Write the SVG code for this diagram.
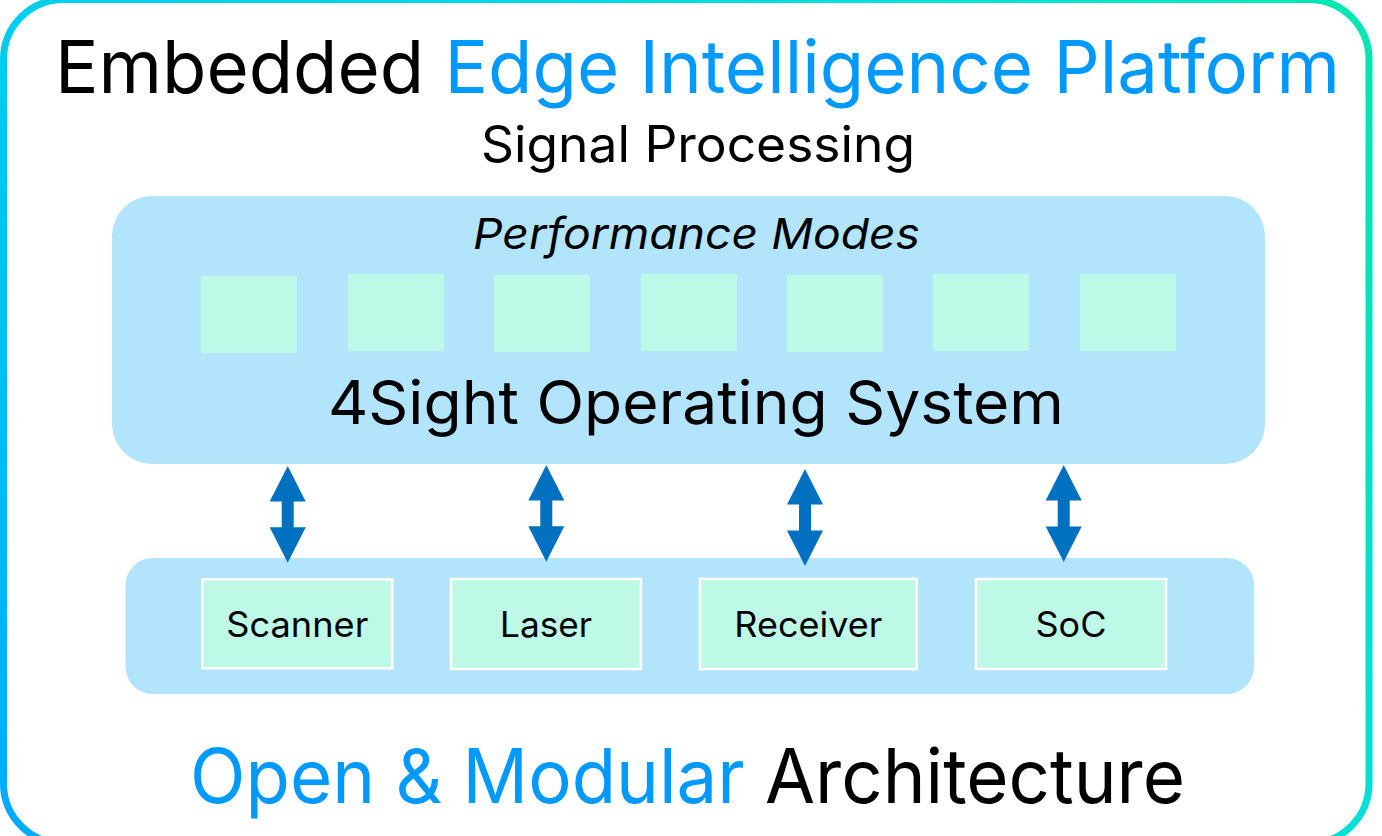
<svg xmlns="http://www.w3.org/2000/svg" width="1382" height="836" viewBox="0 0 1382 836">
  <defs>
    <linearGradient id="border" gradientUnits="userSpaceOnUse" x1="0" y1="836" x2="1382" y2="0">
      <stop offset="0" stop-color="#00aaff"/>
      <stop offset="0.27" stop-color="#00cdf0"/>
      <stop offset="0.73" stop-color="#00e0da"/>
      <stop offset="1" stop-color="#00e8b0"/>
    </linearGradient>
    <style>
      text { font-family: Inter, "Liberation Sans", sans-serif; font-weight: 400; fill: #000; }
      .blue { fill: #0099ff; }
      .panel { fill: #b2e5fc; }
      .mode { fill: #bef8e6; }
      .module { fill: #bef8e6; stroke: #ffffff; stroke-width: 2.5; }
      .label { font-size: 35px; text-anchor: middle; }
      .arrow { fill: #0070c0; }
    </style>
  </defs>
  <rect width="1382" height="836" fill="#ffffff"/>
  <rect id="frame" x="3.5" y="-0.5" width="1365.5" height="844" rx="60" fill="none" stroke="url(#border)" stroke-width="7"/>

  <g id="title">
    <text x="55" y="93" font-size="73" textLength="1285" lengthAdjust="spacingAndGlyphs">Embedded <tspan class="blue">Edge Intelligence Platform</tspan></text>
  </g>
  <g id="subtitle">
    <text x="481" y="162" font-size="50" textLength="434" lengthAdjust="spacingAndGlyphs">Signal Processing</text>
  </g>

  <g id="os-panel">
    <rect class="panel" x="112" y="196" width="1153" height="268" rx="40"/>
    <text x="473" y="249" font-size="43" font-style="italic" textLength="447" lengthAdjust="spacingAndGlyphs">Performance Modes</text>
    <g id="modes">
      <rect class="mode" x="201" y="276" width="96" height="77"/>
      <rect class="mode" x="348" y="274" width="96" height="77"/>
      <rect class="mode" x="494" y="275" width="96" height="77"/>
      <rect class="mode" x="641" y="274" width="96" height="77"/>
      <rect class="mode" x="787" y="275" width="96" height="77"/>
      <rect class="mode" x="933" y="274" width="96" height="77"/>
      <rect class="mode" x="1080" y="274" width="96" height="77"/>
    </g>
    <text x="328" y="424" font-size="60" textLength="736" lengthAdjust="spacingAndGlyphs">4Sight Operating System</text>
  </g>

  <g id="hardware-panel">
    <rect class="panel" x="125.5" y="558" width="1128.5" height="136" rx="27"/>
  </g>
  <g id="scanner">
    <rect class="module" x="202.3" y="579.3" width="190" height="89"/>
    <text class="label" x="297.3" y="637" textLength="142" lengthAdjust="spacingAndGlyphs">Scanner</text>
  </g>
  <g id="laser">
    <rect class="module" x="451" y="579" width="190" height="90"/>
    <text class="label" x="546" y="637" textLength="92" lengthAdjust="spacingAndGlyphs">Laser</text>
  </g>
  <g id="receiver">
    <rect class="module" x="700" y="579" width="216.7" height="90"/>
    <text class="label" x="808.3" y="637" textLength="148" lengthAdjust="spacingAndGlyphs">Receiver</text>
  </g>
  <g id="soc">
    <rect class="module" x="976" y="579" width="190" height="90"/>
    <text class="label" x="1071" y="637" textLength="71" lengthAdjust="spacingAndGlyphs">SoC</text>
  </g>

  <g id="connectors">
    <polygon class="arrow" points="287.7,466 305.7,501.5 293.7,501.5 293.7,527.2 305.7,527.2 287.7,562.7 269.7,527.2 281.7,527.2 281.7,501.5 269.7,501.5"/>
    <polygon class="arrow" points="546.3,465 564.3,500.5 552.3,500.5 552.3,526.2 564.3,526.2 546.3,561.7 528.3,526.2 540.3,526.2 540.3,500.5 528.3,500.5"/>
    <polygon class="arrow" points="805,469 823,504.5 811,504.5 811,530.5 823,530.5 805,566 787,530.5 799,530.5 799,504.5 787,504.5"/>
    <polygon class="arrow" points="1063.7,465 1081.7,500.5 1069.7,500.5 1069.7,526.5 1081.7,526.5 1063.7,562 1045.7,526.5 1057.7,526.5 1057.7,500.5 1045.7,500.5"/>
  </g>

  <g id="footer">
    <text x="190" y="803" font-size="75" textLength="995" lengthAdjust="spacingAndGlyphs"><tspan class="blue">Open &amp; Modular </tspan>Architecture</text>
  </g>
</svg>
